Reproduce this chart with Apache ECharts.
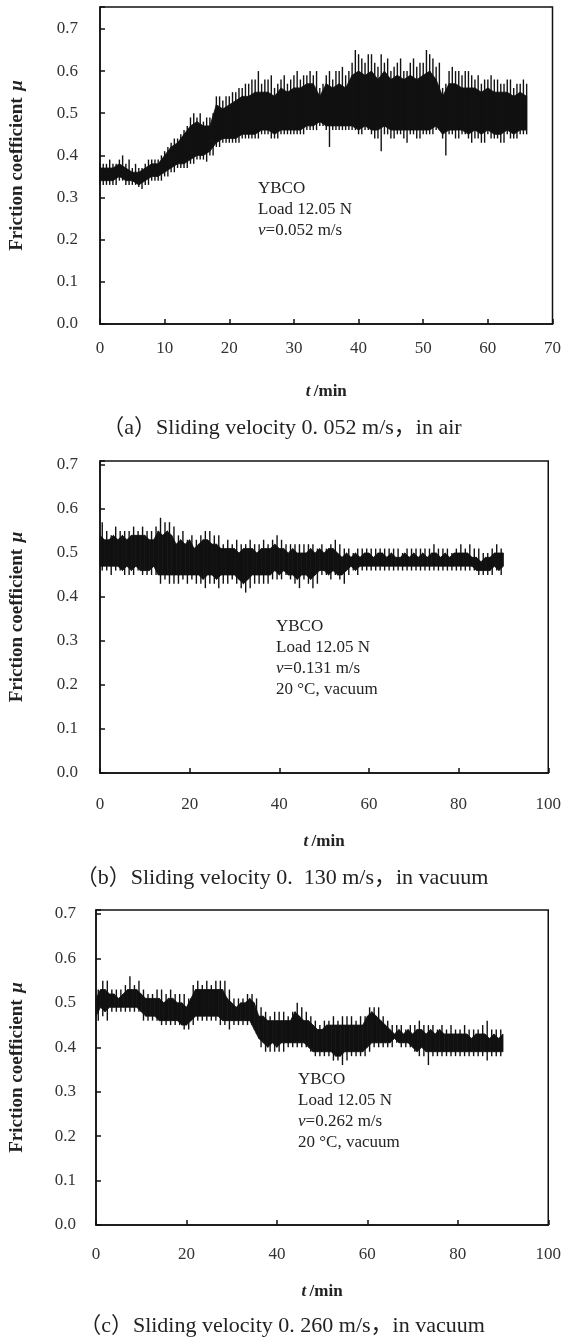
<!DOCTYPE html>
<html><head><meta charset="utf-8">
<script src="https://cdn.jsdelivr.net/npm/echarts@6/dist/echarts.min.js"></script>
<style>html,body{margin:0;padding:0;background:#fff}#c{width:564px;height:1338px}</style>
</head><body><div id="c"></div>
<script>
// ---- data, one sample per minute ----
// core*: edges of the dense black band at t = i min
// tip*:  extremes of the spikes at t = i + 0.5 min
// tip2*: extremes of the spikes at t = i min (panel a only)
const stepMin = 1;

const coreHiA = [0.37,0.37,0.37,0.38,0.37,0.36,0.36,0.37,0.38,0.38,
                 0.40,0.42,0.43,0.45,0.47,0.48,0.47,0.47,0.52,0.51,
                 0.52,0.53,0.54,0.54,0.55,0.55,0.55,0.54,0.56,0.55,
                 0.56,0.56,0.57,0.57,0.54,0.57,0.56,0.57,0.56,0.59,
                 0.60,0.59,0.60,0.58,0.60,0.58,0.59,0.58,0.59,0.58,
                 0.59,0.60,0.58,0.54,0.57,0.57,0.56,0.56,0.56,0.55,
                 0.56,0.55,0.55,0.55,0.54,0.55,0.54];
const coreLoA = [0.34,0.34,0.34,0.35,0.34,0.34,0.33,0.34,0.35,0.35,
                 0.36,0.37,0.38,0.38,0.39,0.40,0.40,0.41,0.43,0.44,
                 0.44,0.44,0.45,0.45,0.45,0.46,0.46,0.45,0.46,0.46,
                 0.46,0.46,0.47,0.47,0.48,0.47,0.47,0.47,0.47,0.47,
                 0.46,0.47,0.46,0.46,0.47,0.46,0.46,0.46,0.46,0.46,
                 0.46,0.46,0.47,0.45,0.46,0.46,0.46,0.45,0.46,0.45,
                 0.46,0.45,0.45,0.46,0.45,0.46,0.46];
const tipHiA  = [0.38,0.39,0.38,0.40,0.39,0.38,0.37,0.39,0.39,0.40,
                 0.42,0.44,0.45,0.47,0.50,0.50,0.49,0.50,0.54,0.54,
                 0.55,0.56,0.57,0.58,0.60,0.58,0.59,0.57,0.59,0.58,
                 0.60,0.59,0.60,0.60,0.57,0.60,0.60,0.61,0.60,0.65,
                 0.63,0.64,0.62,0.64,0.63,0.61,0.63,0.60,0.63,0.62,
                 0.65,0.63,0.62,0.57,0.61,0.60,0.60,0.59,0.59,0.58,
                 0.59,0.58,0.57,0.58,0.57,0.58];
const tipLoA  = [0.33,0.33,0.33,0.34,0.33,0.33,0.32,0.33,0.34,0.34,
                 0.35,0.36,0.37,0.37,0.38,0.39,0.385,0.40,0.42,0.43,
                 0.43,0.43,0.44,0.44,0.44,0.45,0.44,0.44,0.45,0.45,
                 0.45,0.45,0.46,0.46,0.47,0.42,0.46,0.46,0.46,0.46,
                 0.45,0.46,0.44,0.41,0.45,0.44,0.45,0.43,0.45,0.44,
                 0.45,0.45,0.46,0.40,0.45,0.44,0.45,0.43,0.44,0.43,
                 0.44,0.44,0.43,0.44,0.44,0.45];
const tip2HiA = [0.38,0.38,0.38,0.39,0.38,0.37,0.37,0.38,0.39,0.39,
                 0.41,0.43,0.44,0.46,0.49,0.49,0.48,0.49,0.54,0.53,
                 0.54,0.55,0.56,0.57,0.58,0.57,0.58,0.56,0.58,0.57,
                 0.59,0.58,0.59,0.59,0.56,0.59,0.58,0.60,0.59,0.62,
                 0.64,0.62,0.64,0.61,0.62,0.60,0.62,0.60,0.62,0.61,
                 0.62,0.64,0.61,0.56,0.60,0.60,0.59,0.60,0.58,0.57,
                 0.58,0.58,0.57,0.58,0.56,0.57,0.57];
const tip2LoA = [0.33,0.33,0.33,0.34,0.33,0.33,0.325,0.33,0.34,0.34,
                 0.35,0.36,0.37,0.37,0.38,0.39,0.39,0.40,0.42,0.43,
                 0.43,0.43,0.44,0.44,0.44,0.45,0.45,0.44,0.45,0.45,
                 0.45,0.45,0.46,0.46,0.47,0.46,0.46,0.46,0.46,0.46,
                 0.45,0.46,0.45,0.44,0.45,0.44,0.45,0.44,0.45,0.44,
                 0.45,0.45,0.46,0.44,0.45,0.44,0.45,0.44,0.44,0.43,
                 0.45,0.44,0.43,0.45,0.44,0.45,0.45];

const coreHiB = [0.54,0.53,0.53,0.54,0.53,0.54,0.53,0.54,0.54,0.54,
                 0.54,0.53,0.53,0.55,0.54,0.55,0.54,0.52,0.53,0.52,
                 0.53,0.51,0.52,0.53,0.53,0.52,0.52,0.51,0.51,0.51,
                 0.51,0.50,0.51,0.51,0.51,0.50,0.51,0.51,0.51,0.52,
                 0.51,0.51,0.50,0.51,0.50,0.50,0.50,0.51,0.50,0.51,
                 0.50,0.51,0.51,0.50,0.49,0.50,0.49,0.50,0.49,0.50,
                 0.50,0.49,0.50,0.50,0.49,0.50,0.49,0.49,0.50,0.49,
                 0.50,0.49,0.50,0.49,0.50,0.50,0.49,0.50,0.49,0.50,
                 0.50,0.50,0.50,0.49,0.49,0.48,0.49,0.49,0.50,0.50,
                 0.50];
const coreLoB = [0.47,0.47,0.47,0.47,0.47,0.46,0.47,0.46,0.47,0.46,
                 0.46,0.46,0.47,0.45,0.45,0.45,0.45,0.45,0.45,0.45,
                 0.45,0.45,0.45,0.44,0.45,0.45,0.44,0.45,0.45,0.45,
                 0.45,0.44,0.43,0.44,0.45,0.45,0.45,0.45,0.45,0.46,
                 0.45,0.46,0.45,0.45,0.44,0.45,0.45,0.44,0.45,0.46,
                 0.46,0.45,0.46,0.45,0.45,0.46,0.47,0.46,0.47,0.47,
                 0.47,0.47,0.47,0.47,0.47,0.47,0.47,0.47,0.47,0.47,
                 0.47,0.47,0.47,0.47,0.47,0.47,0.47,0.47,0.47,0.47,
                 0.47,0.47,0.47,0.47,0.46,0.46,0.46,0.46,0.47,0.46,
                 0.47];
const tipHiB  = [0.57,0.55,0.54,0.56,0.55,0.55,0.55,0.56,0.55,0.56,
                 0.55,0.55,0.56,0.58,0.57,0.57,0.56,0.54,0.55,0.53,
                 0.54,0.53,0.54,0.55,0.55,0.54,0.54,0.52,0.53,0.52,
                 0.53,0.52,0.52,0.53,0.52,0.52,0.53,0.52,0.53,0.54,
                 0.53,0.52,0.52,0.52,0.52,0.52,0.52,0.52,0.51,0.52,
                 0.51,0.52,0.53,0.52,0.51,0.51,0.50,0.51,0.51,0.51,
                 0.51,0.51,0.51,0.51,0.51,0.51,0.51,0.50,0.51,0.51,
                 0.51,0.51,0.51,0.51,0.52,0.51,0.51,0.51,0.50,0.51,
                 0.52,0.51,0.52,0.51,0.51,0.50,0.50,0.51,0.52,0.51];
const tipLoB  = [0.46,0.46,0.45,0.46,0.46,0.45,0.45,0.45,0.46,0.45,
                 0.45,0.45,0.45,0.43,0.44,0.43,0.43,0.43,0.44,0.43,
                 0.44,0.43,0.43,0.42,0.43,0.43,0.42,0.43,0.43,0.44,
                 0.43,0.42,0.41,0.42,0.43,0.43,0.43,0.43,0.44,0.44,
                 0.44,0.45,0.44,0.43,0.42,0.44,0.43,0.42,0.43,0.45,
                 0.45,0.44,0.45,0.44,0.43,0.45,0.46,0.45,0.46,0.46,
                 0.46,0.46,0.46,0.46,0.46,0.46,0.46,0.46,0.46,0.46,
                 0.46,0.46,0.46,0.46,0.46,0.46,0.46,0.46,0.46,0.46,
                 0.46,0.46,0.46,0.46,0.45,0.45,0.45,0.45,0.46,0.45];

const coreHiC = [0.51,0.53,0.53,0.52,0.52,0.51,0.52,0.53,0.53,0.53,
                 0.52,0.51,0.51,0.51,0.51,0.50,0.51,0.51,0.50,0.50,
                 0.49,0.51,0.53,0.53,0.53,0.53,0.53,0.53,0.53,0.51,
                 0.50,0.49,0.50,0.50,0.51,0.50,0.47,0.47,0.46,0.46,
                 0.46,0.46,0.46,0.46,0.48,0.47,0.46,0.46,0.45,0.44,
                 0.44,0.45,0.45,0.45,0.45,0.45,0.45,0.45,0.45,0.45,
                 0.47,0.48,0.47,0.46,0.45,0.44,0.43,0.44,0.43,0.44,
                 0.43,0.44,0.44,0.43,0.44,0.43,0.44,0.43,0.43,0.43,
                 0.43,0.43,0.43,0.42,0.43,0.43,0.43,0.42,0.43,0.42,
                 0.43];
const coreLoC = [0.47,0.49,0.48,0.49,0.49,0.49,0.49,0.49,0.49,0.49,
                 0.48,0.47,0.47,0.47,0.46,0.46,0.46,0.46,0.46,0.45,
                 0.45,0.46,0.47,0.47,0.47,0.47,0.47,0.47,0.46,0.46,
                 0.46,0.46,0.46,0.46,0.46,0.44,0.42,0.41,0.40,0.41,
                 0.40,0.41,0.41,0.41,0.41,0.41,0.41,0.40,0.39,0.39,
                 0.39,0.39,0.39,0.38,0.38,0.39,0.39,0.39,0.39,0.39,
                 0.40,0.41,0.41,0.41,0.41,0.41,0.42,0.41,0.41,0.41,
                 0.40,0.39,0.40,0.39,0.39,0.39,0.39,0.39,0.39,0.39,
                 0.39,0.39,0.39,0.39,0.39,0.39,0.39,0.39,0.39,0.39,
                 0.39];
const tipHiC  = [0.53,0.55,0.55,0.53,0.53,0.53,0.54,0.56,0.54,0.55,
                 0.53,0.52,0.52,0.53,0.53,0.52,0.53,0.52,0.52,0.52,
                 0.51,0.54,0.55,0.54,0.55,0.54,0.55,0.55,0.55,0.53,
                 0.51,0.51,0.51,0.52,0.52,0.51,0.49,0.48,0.47,0.48,
                 0.48,0.48,0.47,0.48,0.50,0.49,0.48,0.47,0.46,0.45,
                 0.46,0.46,0.47,0.46,0.47,0.47,0.47,0.46,0.47,0.47,
                 0.49,0.49,0.49,0.47,0.46,0.45,0.45,0.45,0.44,0.45,
                 0.45,0.46,0.45,0.45,0.45,0.44,0.45,0.44,0.45,0.44,
                 0.44,0.45,0.44,0.44,0.44,0.45,0.46,0.44,0.44,0.44];
const tipLoC  = [0.46,0.47,0.46,0.48,0.48,0.48,0.48,0.48,0.48,0.48,
                 0.46,0.46,0.46,0.46,0.45,0.45,0.45,0.45,0.45,0.44,
                 0.44,0.45,0.46,0.46,0.46,0.46,0.46,0.45,0.45,0.44,
                 0.45,0.45,0.45,0.45,0.45,0.43,0.40,0.39,0.39,0.39,
                 0.39,0.39,0.40,0.40,0.40,0.40,0.40,0.39,0.38,0.38,
                 0.38,0.38,0.37,0.37,0.36,0.37,0.38,0.38,0.38,0.38,
                 0.39,0.40,0.40,0.40,0.40,0.40,0.41,0.40,0.40,0.40,
                 0.39,0.38,0.38,0.36,0.38,0.38,0.38,0.38,0.38,0.38,
                 0.38,0.38,0.38,0.38,0.38,0.38,0.37,0.38,0.38,0.38];

// axis ranges / labels / texts
const xMaxA = 70, xStepA = 10;
const xMaxBC = 100, xStepBC = 20;
const yStep = 0.1;
const captions = ['（a）Sliding velocity 0. 052 m/s，in air',
                  '（b）Sliding velocity 0.  130 m/s，in vacuum',
                  '（c）Sliding velocity 0. 260 m/s，in vacuum'];
const notes = ['YBCO\nLoad 12.05 N\n{i|v}=0.052 m/s',
               'YBCO\nLoad 12.05 N\n{i|v}=0.131 m/s\n20 °C, vacuum',
               'YBCO\nLoad 12.05 N\n{i|v}=0.262 m/s\n20 °C, vacuum'];

// ---- layout ----
const SERIF = '"Liberation Serif", "Times New Roman", serif';
const CAP_FONT = '"Liberation Serif", "Noto Sans CJK SC", serif';
const INK = '#111';
const grids = [
  {left: 99, right: 10, top: 7,   height: 317},
  {left: 99, right: 9,  top: 461, height: 312},
  {left: 95, right: 9,  top: 910, height: 315}
];
const yMax = [0.752, 0.709, 0.709];
const xMax = [xMaxA, xMaxBC, xMaxBC];
const xStep = [xStepA, xStepBC, xStepBC];
const xLabMargin = [16, 23, 21];
const xNameGap = [59, 60, 58];
const yLabMargin = [22, 22, 20];
const yNameGap = [73, 73, 69];
const capTop = [412, 862, 1310];
const notePos = [[258, 178], [276, 616], [298, 1069]];

function yFmt(v) {
  const r = Math.round(v * 10) / 10;
  return Math.abs(v - r) < 1e-6 ? r.toFixed(1) : '';
}

// dense band: quad between consecutive samples
function renderBand(params, api) {
  const i = params.dataIndexInside;
  if (i >= params.dataInsideLength - 1) return null;
  const p0 = api.coord([api.value(0, i), api.value(1, i)]);
  const p1 = api.coord([api.value(0, i), api.value(2, i)]);
  const p2 = api.coord([api.value(0, i + 1), api.value(2, i + 1)]);
  const p3 = api.coord([api.value(0, i + 1), api.value(1, i + 1)]);
  return {type: 'polygon', shape: {points: [p0, p1, p2, p3]},
          style: {fill: INK, stroke: INK, lineWidth: 0.8}};
}
// spikes: vertical stroke from lower tip to upper tip
function renderSpike(params, api) {
  const a = api.coord([api.value(0), api.value(1)]);
  const b = api.coord([api.value(0), api.value(2)]);
  return {type: 'line', shape: {x1: a[0], y1: a[1], x2: b[0], y2: b[1]},
          style: {stroke: INK, lineWidth: 1.4}};
}

const xAxes = [], yAxes = [], series = [];
const panels = [[coreHiA, coreLoA, [[tipHiA, tipLoA, 0.5], [tip2HiA, tip2LoA, 0]]],
                [coreHiB, coreLoB, [[tipHiB, tipLoB, 0.5]]],
                [coreHiC, coreLoC, [[tipHiC, tipLoC, 0.5]]]];
for (let g = 0; g < 3; g++) {
  xAxes.push({
    type: 'value', gridIndex: g, min: 0, max: xMax[g], interval: xStep[g],
    name: '{i|t} {n|/min}', nameLocation: 'middle', nameGap: xNameGap[g],
    nameTextStyle: {rich: {
      i: {fontFamily: SERIF, fontSize: 17, fontWeight: 'bold', fontStyle: 'italic', color: '#222'},
      n: {fontFamily: SERIF, fontSize: 17, fontWeight: 'bold', color: '#222'}}},
    axisLine: {show: true, onZero: false, lineStyle: {color: INK, width: 1.5}},
    axisTick: {show: true, inside: true, length: 5, lineStyle: {color: INK, width: 1.5}},
    axisLabel: {margin: xLabMargin[g], fontFamily: SERIF, fontSize: 17, color: '#333'},
    splitLine: {show: false}
  });
  yAxes.push({
    type: 'value', gridIndex: g, min: 0, max: yMax[g], interval: yStep,
    name: '{n|Friction coefficient}  {i|μ}', nameLocation: 'middle', nameGap: yNameGap[g],
    nameTextStyle: {rich: {
      n: {fontFamily: SERIF, fontSize: 19, fontWeight: 'bold', color: '#222'},
      i: {fontFamily: SERIF, fontSize: 19, fontWeight: 'bold', fontStyle: 'italic', color: '#222'}}},
    axisLine: {show: true, onZero: false, lineStyle: {color: INK, width: 1.5}},
    axisTick: {show: true, inside: true, length: 5, lineStyle: {color: INK, width: 1.5}},
    axisLabel: {margin: yLabMargin[g], fontFamily: SERIF, fontSize: 17, color: '#333', formatter: yFmt},
    splitLine: {show: false}
  });
  const [cHi, cLo, tipSets] = panels[g];
  series.push({
    type: 'custom', xAxisIndex: g, yAxisIndex: g, z: 3,
    data: cLo.map((v, i) => [i * stepMin, v, cHi[i]]),
    encode: {x: 0, y: [1, 2]},
    renderItem: renderBand
  });
  tipSets.forEach(([tHi, tLo, off]) => {
    series.push({
      type: 'custom', xAxisIndex: g, yAxisIndex: g, z: 3,
      data: tLo.map((v, i) => [(i + off) * stepMin, v, tHi[i]]),
      encode: {x: 0, y: [1, 2]},
      renderItem: renderSpike
    });
  });
}

const graphic = notes.map((t, g) => ({
  type: 'text', left: notePos[g][0], top: notePos[g][1], z: 10,
  style: {
    text: t, fontFamily: SERIF, fontSize: 17, lineHeight: 21, fill: '#222',
    rich: {i: {fontFamily: SERIF, fontSize: 17, lineHeight: 21, fontStyle: 'italic', fill: '#222'}}
  }
}));

const title = captions.map((t, g) => ({
  text: t, left: 'center', top: capTop[g],
  textStyle: {fontFamily: CAP_FONT, fontSize: 22, fontWeight: 'normal', color: '#222'}
}));

const chart = echarts.init(document.getElementById('c'), null, {renderer: 'canvas'});
chart.setOption({
  backgroundColor: '#fff',
  animation: false,
  title: title,
  grid: grids.map(gr => Object.assign({show: true, borderColor: INK, borderWidth: 1.5, backgroundColor: 'transparent'}, gr)),
  xAxis: xAxes,
  yAxis: yAxes,
  series: series,
  graphic: graphic
});
</script></body></html>
